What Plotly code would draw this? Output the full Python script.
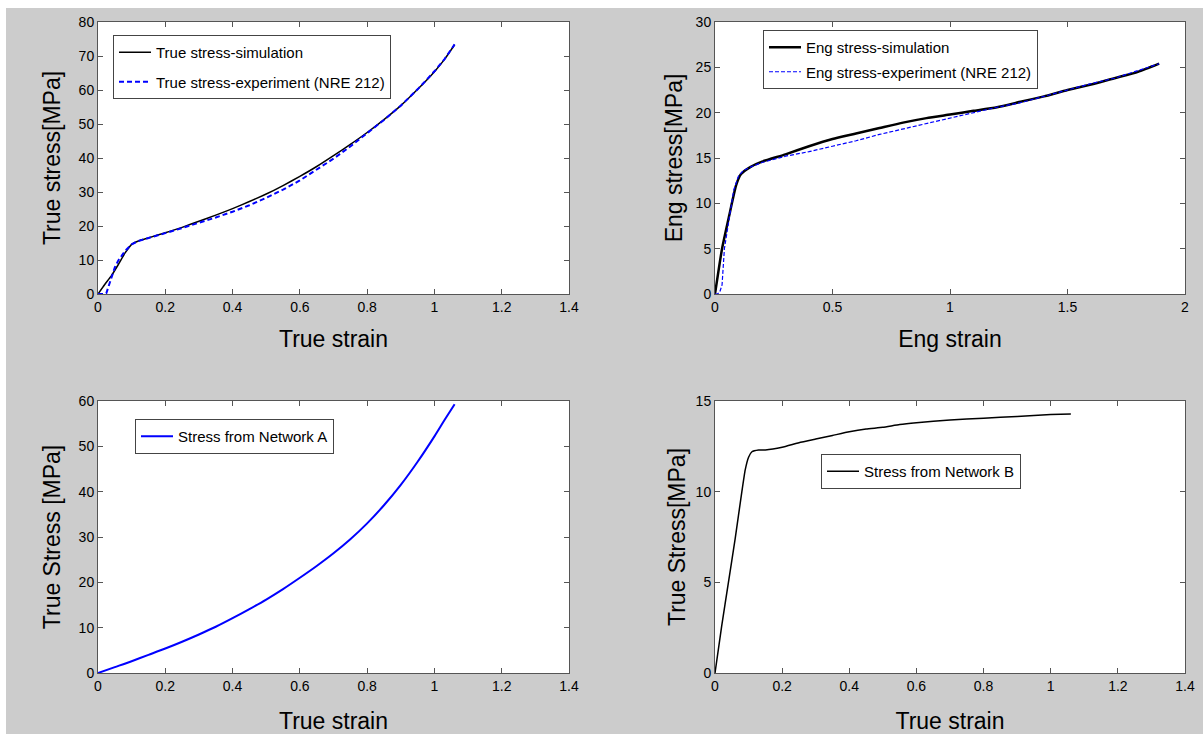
import plotly.graph_objects as go

# ---------------- data ----------------
# Top-left: true stress vs true strain
tl_sim_strain = [0, 0.02, 0.04, 0.06, 0.08, 0.09, 0.10, 0.12, 0.15, 0.20, 0.25, 0.30, 0.35, 0.40,
                 0.45, 0.50, 0.55, 0.60, 0.65, 0.70, 0.75, 0.80, 0.85, 0.90, 0.95, 1.00, 1.03, 1.06]
tl_sim_stress = [0, 2.8, 5.4, 8.6, 12.0, 13.4, 14.6, 15.6, 16.5, 18.0, 19.6, 21.4, 23.2, 25.1,
                 27.2, 29.4, 31.9, 34.6, 37.5, 40.7, 44.0, 47.5, 51.3, 55.4, 60.2, 65.4, 69.0, 73.3]
tl_exp_strain = [0, 0.01, 0.02, 0.025, 0.03, 0.04, 0.05, 0.06, 0.08, 0.09, 0.10, 0.12, 0.15, 0.20,
                 0.25, 0.30, 0.35, 0.40, 0.45, 0.50, 0.55, 0.60, 0.65, 0.70, 0.75, 0.80, 0.85, 0.90,
                 0.95, 1.00, 1.03, 1.06]
tl_exp_stress = [0, 0, 0, 0.3, 1.8, 5.0, 7.8, 9.8, 12.6, 13.6, 14.6, 15.6, 16.4, 17.9,
                 19.4, 20.9, 22.5, 24.2, 26.1, 28.3, 30.7, 33.4, 36.5, 39.8, 43.4, 47.3, 51.2, 55.4,
                 60.2, 65.5, 69.1, 73.4]

# Top-right: engineering stress vs engineering strain
tr_sim_strain = [0, 0.03, 0.06, 0.09, 0.11, 0.15, 0.20, 0.30, 0.40, 0.50, 0.60, 0.70, 0.80, 0.90,
                 1.00, 1.10, 1.20, 1.30, 1.40, 1.50, 1.60, 1.70, 1.80, 1.89]
tr_sim_stress = [0, 5.0, 8.6, 12.0, 13.2, 14.0, 14.6, 15.4, 16.3, 17.1, 17.7, 18.3, 18.9, 19.4,
                 19.8, 20.2, 20.6, 21.2, 21.8, 22.5, 23.1, 23.8, 24.5, 25.4]
tr_exp_strain = [0, 0.01, 0.02, 0.03, 0.04, 0.06, 0.08, 0.10, 0.12, 0.15, 0.20, 0.30, 0.40, 0.50,
                 0.60, 0.70, 0.80, 0.90, 1.00, 1.10, 1.20, 1.30, 1.40, 1.50, 1.60, 1.70, 1.80, 1.89]
tr_exp_stress = [0, 0, 0.2, 1.0, 5.0, 8.5, 11.5, 13.0, 13.6, 14.0, 14.5, 15.2, 15.7, 16.3,
                 16.9, 17.6, 18.2, 18.8, 19.4, 20.0, 20.6, 21.1, 21.8, 22.5, 23.2, 23.8, 24.6, 25.4]

# Bottom-left: stress from network A
bl_strain = [0, 0.05, 0.10, 0.15, 0.20, 0.25, 0.30, 0.35, 0.40, 0.45, 0.50, 0.55, 0.60, 0.65,
             0.70, 0.75, 0.80, 0.85, 0.90, 0.95, 1.00, 1.03, 1.06]
bl_stress = [0, 1.3, 2.6, 4.0, 5.4, 6.9, 8.5, 10.2, 12.1, 14.1, 16.2, 18.5, 21.0, 23.6,
             26.4, 29.5, 33.0, 37.0, 41.5, 46.6, 52.2, 55.8, 59.3]

# Bottom-right: stress from network B
br_strain = [0, 0.02, 0.04, 0.06, 0.08, 0.09, 0.10, 0.11, 0.13, 0.15, 0.20, 0.25, 0.30, 0.35, 0.40,
             0.45, 0.50, 0.55, 0.60, 0.70, 0.80, 0.90, 1.00, 1.06]
br_stress = [0, 2.6, 5.0, 7.4, 10.0, 11.2, 11.9, 12.2, 12.3, 12.3, 12.45, 12.7, 12.9, 13.1, 13.3,
             13.45, 13.55, 13.7, 13.8, 13.95, 14.05, 14.15, 14.25, 14.28]

# tick labels
ticks_true_strain = [0, 0.2, 0.4, 0.6, 0.8, 1.0, 1.2, 1.4]
ticks_eng_strain = [0, 0.5, 1.0, 1.5, 2.0]
ticks_tl_y = [0, 10, 20, 30, 40, 50, 60, 70, 80]
ticks_tr_y = [0, 5, 10, 15, 20, 25, 30]
ticks_bl_y = [0, 10, 20, 30, 40, 50, 60]
ticks_br_y = [0, 5, 10, 15]

# ---------------- figure ----------------
W, H = 1203, 734
FONT = "Liberation Sans, Arial, Helvetica, sans-serif"
AXC = "#555555"

fig = go.Figure()

fig.add_trace(go.Scatter(x=tl_sim_strain, y=tl_sim_stress, mode="lines", name="True stress-simulation",
                         line=dict(color="black", width=1.5, shape="spline", smoothing=0.5),
                         xaxis="x", yaxis="y", legend="legend", legendgroup="a1"))
fig.add_trace(go.Scatter(x=tl_exp_strain, y=tl_exp_stress, mode="lines", name="True stress-experiment (NRE 212)",
                         line=dict(color="#0000ff", width=2, dash="5px,3px"), xaxis="x", yaxis="y",
                         legend="legend", legendgroup="a2"))
fig.add_trace(go.Scatter(x=tr_sim_strain, y=tr_sim_stress, mode="lines", name="Eng stress-simulation",
                         line=dict(color="black", width=2.5, shape="spline", smoothing=0.5),
                         xaxis="x2", yaxis="y2", legend="legend2", legendgroup="b1"))
fig.add_trace(go.Scatter(x=tr_exp_strain, y=tr_exp_stress, mode="lines", name="Eng stress-experiment (NRE 212)",
                         line=dict(color="#0000ff", width=1.2, dash="4px,2px"), xaxis="x2", yaxis="y2",
                         legend="legend2", legendgroup="b2"))
fig.add_trace(go.Scatter(x=bl_strain, y=bl_stress, mode="lines", name="Stress from Network A",
                         line=dict(color="#0000ff", width=2, shape="spline", smoothing=0.8),
                         xaxis="x3", yaxis="y3", legend="legend3"))
fig.add_trace(go.Scatter(x=br_strain, y=br_stress, mode="lines", name="Stress from Network B",
                         line=dict(color="black", width=1.5, shape="spline", smoothing=0.4),
                         xaxis="x4", yaxis="y4", legend="legend4"))


def px_x(p):
    return p / W


def px_y(p):
    return 1 - p / H


def axis(domain, rng, tickvals, title, anchor, standoff):
    return dict(domain=domain, range=rng, tickvals=tickvals, anchor=anchor,
                showline=True, linecolor=AXC, linewidth=1, mirror="ticks",
                ticks="inside", ticklen=5, tickcolor=AXC, showgrid=False, zeroline=False,
                tickfont=dict(family=FONT, size=14, color="black"),
                title=dict(text=title, font=dict(family=FONT, size=23, color="black"), standoff=standoff),
                automargin=False, fixedrange=True)


xl = [px_x(98), px_x(569)]
xr = [px_x(715), px_x(1185)]
yt = [px_y(294), px_y(22)]
yb = [px_y(673), px_y(401)]

legend_common = dict(bgcolor="white", bordercolor="#444444", borderwidth=1,
                     font=dict(family=FONT, size=15, color="black"),
                     xanchor="left", yanchor="top", traceorder="grouped", itemwidth=32)

fig.update_layout(
    width=W, height=H,
    margin=dict(l=0, r=0, t=0, b=0, autoexpand=False),
    paper_bgcolor="#cccccc", plot_bgcolor="white",
    showlegend=True,
    xaxis=axis(xl, [0, 1.4], ticks_true_strain, "True strain", "y", 17),
    yaxis=axis(yt, [0, 80], ticks_tl_y, "True stress[MPa]", "x", 11),
    xaxis2=axis(xr, [0, 2], ticks_eng_strain, "Eng strain", "y2", 17),
    yaxis2=axis(yt, [0, 30], ticks_tr_y, "Eng stress[MPa]", "x2", 6),
    xaxis3=axis(xl, [0, 1.4], ticks_true_strain, "True strain", "y3", 20),
    yaxis3=axis(yb, [0, 60], ticks_bl_y, "True Stress [MPa]", "x3", 11),
    xaxis4=axis(xr, [0, 1.4], ticks_true_strain, "True strain", "y4", 20),
    yaxis4=axis(yb, [0, 15], ticks_br_y, "True Stress[MPa]", "x4", 3),
    legend=dict(x=px_x(113), y=px_y(35), tracegroupgap=7, **legend_common),
    legend2=dict(x=px_x(763), y=px_y(30), tracegroupgap=2, **legend_common),
    legend3=dict(x=px_x(135), y=px_y(419), **legend_common),
    legend4=dict(x=px_x(821), y=px_y(454), **legend_common),
    shapes=[
        dict(type="rect", xref="paper", yref="paper", x0=0, x1=1, y0=px_y(8), y1=1,
             fillcolor="white", line=dict(width=0), layer="above"),
        dict(type="rect", xref="paper", yref="paper", x0=0, x1=px_x(6), y0=0, y1=1,
             fillcolor="white", line=dict(width=0), layer="above"),
    ],
)

fig.write_html(
    "out.html",
    config={"displayModeBar": False},
    post_script="document.body.style.margin='0px';document.body.style.overflow='hidden';",
)
